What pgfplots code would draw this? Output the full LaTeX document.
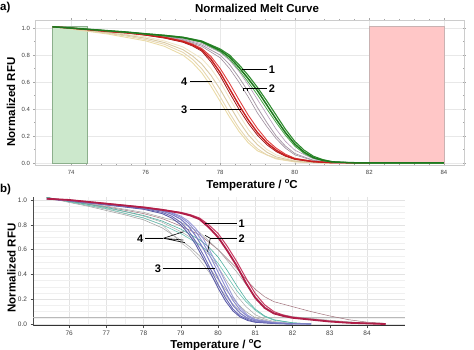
\documentclass[border=0pt]{standalone}
\usepackage{pgfplots}
\pgfplotsset{compat=1.18}
\usepackage{fontspec}
\setmainfont{Liberation Sans}
\definecolor{gA}{HTML}{1F7A1F}
\definecolor{gB}{HTML}{2E8B2E}
\definecolor{gC}{HTML}{4CA64C}
\definecolor{rA}{HTML}{C81E1E}
\definecolor{rB}{HTML}{E04040}
\definecolor{rC}{HTML}{A01818}
\definecolor{pA}{HTML}{A89AA8}
\definecolor{pB}{HTML}{B49ABA}
\definecolor{pC}{HTML}{9C8C9C}
\definecolor{bA}{HTML}{E6D6B0}
\definecolor{bB}{HTML}{D9C9A3}
\definecolor{bC}{HTML}{F0E6C8}
\definecolor{bD}{HTML}{EADBA8}
\definecolor{crA}{HTML}{B01E48}
\definecolor{crB}{HTML}{C83C64}
\definecolor{blA}{HTML}{7C7CC4}
\definecolor{blB}{HTML}{8A8AD0}
\definecolor{blC}{HTML}{6A6AB4}
\definecolor{blD}{HTML}{9A9AD8}
\definecolor{blE}{HTML}{5C5CA8}
\definecolor{tA}{HTML}{6CC4B4}
\definecolor{tB}{HTML}{50B0A0}
\definecolor{mA}{HTML}{A0707A}
\newcommand{\lab}{\fontsize{11.5}{13}\selectfont\bfseries}
\newcommand{\dego}{\raisebox{0.45em}{\fontsize{7.5}{8}\selectfont o}}
\begin{document}
\begin{tikzpicture}
\useasboundingbox (0pt,0pt) rectangle (474pt,350pt);
% ---------- panel a ----------
\begin{axis}[at={(35pt,185pt)}, anchor=south west, scale only axis,
  width=429pt, height=145pt,
  xmin=73.03, xmax=84.54, ymin=-0.015, ymax=1.06,
  xtick={74,76,...,84}, ytick={0,0.2,0.4,0.6,0.8,1.0},
  minor x tick num=4, minor y tick num=1,
  tick align=center, major tick length=3pt, minor tick length=2pt,
  every tick/.style={gray!70},
  axis line style={gray!40},
  grid=major, major grid style={gray!18},
  /pgf/number format/assume math mode=true,
  yticklabel style={/pgf/number format/fixed, /pgf/number format/fixed zerofill, /pgf/number format/precision=1},
  ticklabel style={font=\fontsize{6}{7}\selectfont, text=black!75},
  clip=false]
\addplot[fill=green!55!black!20, draw=green!30!black!45, line width=0.5pt] coordinates {(73.5,-0.005)(74.43,-0.005)(74.43,1.01)(73.5,1.01)} -- cycle;
\addplot[fill=red!22, draw=red!30!black!30, line width=0.5pt] coordinates {(82,-0.005)(84,-0.005)(84,1.01)(82,1.01)} -- cycle;
% beige (4)
\addplot[bC, line width=0.9pt] coordinates {(73.5,1.01)(74,0.998)(75,0.97)(76,0.935)(76.5,0.905)(77,0.86)(77.5,0.775)(77.75,0.70)(78,0.60)(78.25,0.48)(78.5,0.36)(78.75,0.25)(79,0.165)(79.25,0.10)(79.5,0.06)(80,0.018)(80.5,0.004)(81,0)};
\addplot[bD, line width=0.9pt] coordinates {(73.5,1.01)(74,0.993)(75,0.955)(76,0.905)(76.5,0.865)(77,0.80)(77.25,0.745)(77.5,0.67)(77.75,0.57)(78,0.455)(78.25,0.34)(78.5,0.235)(78.75,0.15)(79,0.09)(79.5,0.03)(80,0.008)(81,0)};
\addplot[bA, line width=0.9pt] coordinates {(73.5,1.01)(74,0.995)(75,0.96)(75.5,0.94)(76,0.915)(76.5,0.88)(77,0.82)(77.25,0.77)(77.5,0.70)(77.75,0.605)(78,0.49)(78.25,0.37)(78.5,0.26)(78.75,0.17)(79,0.105)(79.25,0.06)(79.5,0.035)(80,0.01)(80.5,0.002)(81,0)};
\addplot[bB, line width=0.9pt] coordinates {(73.5,1.01)(74,0.997)(75,0.965)(75.5,0.947)(76,0.925)(76.5,0.893)(77,0.84)(77.25,0.795)(77.5,0.735)(77.75,0.65)(78,0.545)(78.25,0.425)(78.5,0.31)(78.75,0.21)(79,0.135)(79.25,0.08)(79.5,0.045)(80,0.013)(80.5,0.003)(81,0)};
% gray / purple (2)
\addplot[pC, line width=0.6pt] coordinates {(73.5,1.01)(74,1.0)(75,0.978)(76,0.953)(76.5,0.935)(77,0.91)(77.5,0.865)(78,0.78)(78.25,0.70)(78.5,0.60)(78.75,0.49)(79,0.37)(79.25,0.27)(79.5,0.18)(79.75,0.11)(80,0.06)(80.5,0.018)(81,0.004)(82,0)};
\addplot[pA, line width=0.8pt] coordinates {(73.5,1.01)(74,1.0)(75,0.98)(76,0.955)(76.5,0.94)(77,0.915)(77.5,0.875)(78,0.80)(78.25,0.73)(78.5,0.635)(78.75,0.53)(79,0.41)(79.25,0.30)(79.5,0.20)(79.75,0.125)(80,0.07)(80.5,0.02)(81,0.005)(82,0)};
\addplot[pB, line width=0.6pt] coordinates {(73.5,1.01)(74,1.0)(75,0.98)(76,0.957)(76.5,0.943)(77,0.92)(77.5,0.885)(78,0.82)(78.25,0.76)(78.5,0.68)(78.75,0.58)(79,0.47)(79.25,0.36)(79.5,0.25)(79.75,0.16)(80,0.095)(80.5,0.03)(81,0.008)(82,0)};
% red (3)
\addplot[rB, line width=0.9pt] coordinates {(73.5,1.01)(74,1.0)(75,0.976)(75.5,0.966)(76,0.952)(76.5,0.933)(77,0.905)(77.25,0.882)(77.5,0.85)(77.75,0.79)(78,0.70)(78.25,0.59)(78.5,0.47)(78.75,0.355)(79,0.255)(79.25,0.17)(79.5,0.11)(79.75,0.065)(80,0.035)(80.5,0.012)(81,0.003)(82,0)};
\addplot[rC, line width=0.8pt] coordinates {(73.5,1.01)(74,1.0)(75,0.974)(75.5,0.963)(76,0.947)(76.5,0.926)(77,0.895)(77.25,0.868)(77.5,0.83)(77.75,0.75)(78,0.645)(78.25,0.52)(78.5,0.40)(78.75,0.295)(79,0.205)(79.25,0.135)(79.5,0.085)(79.75,0.05)(80,0.027)(80.5,0.008)(81,0.002)(82,0)};
\addplot[rA, line width=1.4pt] coordinates {(73.5,1.01)(74,1.0)(75,0.975)(75.5,0.965)(76,0.95)(76.5,0.93)(77,0.90)(77.25,0.875)(77.5,0.84)(77.75,0.77)(78,0.67)(78.25,0.55)(78.5,0.43)(78.75,0.32)(79,0.225)(79.25,0.15)(79.5,0.095)(79.75,0.055)(80,0.03)(80.5,0.01)(81,0.002)(82,0)};
% green (1)
\addplot[gC, line width=0.8pt] coordinates {(73.5,1.01)(74,1.0)(74.5,0.99)(75,0.979)(75.5,0.968)(76,0.955)(76.5,0.942)(77,0.926)(77.5,0.895)(78,0.825)(78.25,0.77)(78.5,0.69)(78.75,0.60)(79,0.505)(79.25,0.40)(79.5,0.30)(79.75,0.205)(80,0.125)(80.25,0.07)(80.5,0.035)(80.75,0.017)(81,0.007)(81.5,0.001)(82,0)(84,0)};
\addplot[gB, line width=1.1pt] coordinates {(73.5,1.01)(74,1.0)(74.5,0.99)(75,0.98)(75.5,0.97)(76,0.958)(76.5,0.947)(77,0.933)(77.5,0.905)(78,0.845)(78.25,0.80)(78.5,0.73)(78.75,0.65)(79,0.56)(79.25,0.46)(79.5,0.355)(79.75,0.25)(80,0.16)(80.25,0.095)(80.5,0.05)(80.75,0.025)(81,0.01)(81.5,0.002)(82,0)(84,0)};
\addplot[gA, line width=1.5pt] coordinates {(73.5,1.01)(74,1.0)(74.5,0.99)(75,0.98)(75.5,0.97)(76,0.957)(76.5,0.945)(77,0.93)(77.5,0.90)(78,0.835)(78.25,0.785)(78.5,0.71)(78.75,0.625)(79,0.535)(79.25,0.43)(79.5,0.325)(79.75,0.225)(80,0.14)(80.25,0.08)(80.5,0.04)(80.75,0.02)(81,0.008)(81.5,0.002)(82,0)(84,0)};
% annotations
\draw[black, line width=0.7pt] (axis cs:78.59,0.694) -- (axis cs:79.26,0.694);
\node[anchor=west, inner sep=1pt, font=\fontsize{11}{12}\selectfont\bfseries] at (axis cs:79.27,0.694) {1};
\draw[black, line width=0.7pt] (axis cs:78.81,0.553) -- (axis cs:79.26,0.553);
\draw[black, line width=0.6pt] (axis cs:78.63,0.53) -- (axis cs:78.63,0.553) -- (axis cs:78.81,0.553) (axis cs:78.72,0.553) -- (axis cs:78.72,0.535);
\node[anchor=west, inner sep=1pt, font=\fontsize{11}{12}\selectfont\bfseries] at (axis cs:79.27,0.553) {2};
\draw[black, line width=0.7pt] (axis cs:77.2,0.605) -- (axis cs:77.78,0.605);
\node[anchor=east, inner sep=1pt, font=\fontsize{11}{12}\selectfont\bfseries] at (axis cs:77.15,0.605) {4};
\draw[black, line width=0.7pt] (axis cs:77.2,0.398) -- (axis cs:78.55,0.398);
\node[anchor=east, inner sep=1pt, font=\fontsize{11}{12}\selectfont\bfseries] at (axis cs:77.15,0.398) {3};
\end{axis}
% ---------- panel b ----------
\begin{axis}[at={(33pt,24pt)}, anchor=south west, scale only axis,
  width=372pt, height=129pt,
  xmin=75.03, xmax=85.02, ymin=-0.016, ymax=1.024,
  xtick={76,77,...,84}, ytick={0,0.2,0.4,0.6,0.8,1.0},
  minor x tick num=1, minor y tick num=3,
  axis x line*=bottom, axis y line*=left,
  x axis line style={black!80, line width=1pt},
  y axis line style={black!70, line width=0.6pt},
  tick align=outside, major tick length=2.5pt, minor tick length=0pt,
  every tick/.style={black!70},
  grid=both, major grid style={gray!22}, minor grid style={gray!12},
  /pgf/number format/assume math mode=true,
  yticklabel style={/pgf/number format/fixed, /pgf/number format/fixed zerofill, /pgf/number format/precision=1},
  xticklabel style={yshift=1pt},
  ticklabel style={font=\fontsize{6.5}{7}\selectfont, text=black!75},
  clip=false]
\addplot[gray!55, line width=0.5pt] coordinates {(75.03,0.055)(85.02,0.055)};
% gray (4)
\addplot[gray!70, line width=0.5pt] coordinates {(75.4,1.02)(76,0.99)(76.5,0.965)(77,0.935)(77.5,0.905)(78,0.87)(78.5,0.82)(79,0.745)(79.25,0.70)(79.5,0.64)(79.75,0.56)(80,0.46)(80.25,0.34)(80.5,0.23)(80.75,0.14)(81,0.075)(81.25,0.04)(81.5,0.02)(82,0.005)(82.5,0)};
\addplot[gray!80, line width=0.5pt] coordinates {(75.4,1.02)(76,0.98)(76.5,0.95)(77,0.915)(77.5,0.88)(78,0.84)(78.5,0.775)(79,0.675)(79.25,0.62)(79.5,0.55)(79.75,0.46)(80,0.36)(80.25,0.26)(80.5,0.17)(80.75,0.10)(81,0.05)(81.5,0.012)(82,0.002)(82.5,0)};
\addplot[gray!60, line width=0.5pt] coordinates {(75.4,1.02)(76,0.985)(77,0.925)(78,0.855)(78.5,0.80)(79,0.656)(79.25,0.60)(79.5,0.52)(79.75,0.42)(80,0.31)(80.25,0.21)(80.5,0.13)(80.75,0.07)(81,0.035)(81.5,0.008)(82,0)};
% long tails
\addplot[mA, line width=0.5pt] coordinates {(75.4,1.02)(76,0.99)(77,0.945)(78,0.89)(78.5,0.85)(79,0.79)(79.5,0.72)(80,0.60)(80.5,0.45)(80.75,0.36)(81,0.28)(81.25,0.22)(81.5,0.18)(82,0.14)(82.5,0.10)(83,0.065)(83.5,0.035)(84,0.015)(84.5,0.005)};
\addplot[gray!75, line width=0.5pt] coordinates {(75.4,1.02)(76,0.99)(77,0.95)(78,0.90)(79,0.82)(79.5,0.74)(80,0.60)(80.5,0.42)(81,0.22)(81.25,0.14)(81.5,0.09)(82,0.06)(82.5,0.045)(83,0.03)(83.5,0.018)(84,0.008)(84.5,0.003)};
% teal (2)
\addplot[tA, line width=0.6pt] coordinates {(75.4,1.02)(76,0.985)(77,0.93)(78,0.855)(78.5,0.80)(79,0.73)(79.5,0.64)(79.75,0.58)(80,0.49)(80.25,0.38)(80.5,0.27)(80.75,0.18)(81,0.11)(81.25,0.06)(81.5,0.03)(82,0.01)(82.5,0)};
\addplot[tB, line width=0.6pt] coordinates {(75.4,1.02)(76,0.99)(77,0.94)(78,0.875)(78.5,0.83)(79,0.765)(79.5,0.68)(79.75,0.62)(80,0.54)(80.25,0.43)(80.5,0.31)(80.75,0.20)(81,0.12)(81.25,0.065)(81.5,0.035)(82,0.01)(82.5,0)};
% blue (3)
\addplot[blD, line width=0.9pt] coordinates {(75.4,1.01)(76,0.995)(76.5,0.98)(77,0.965)(77.5,0.95)(78,0.935)(78.5,0.92)(78.75,0.90)(79,0.87)(79.2,0.83)(79.4,0.77)(79.6,0.69)(79.8,0.58)(80,0.46)(80.2,0.34)(80.4,0.22)(80.6,0.13)(80.8,0.07)(81,0.038)(81.5,0.012)(82,0.003)(82.5,0)};
\addplot[blE, line width=0.9pt] coordinates {(75.4,1.01)(76,0.993)(76.5,0.977)(77,0.96)(77.5,0.943)(78,0.925)(78.5,0.89)(78.75,0.855)(79,0.80)(79.2,0.73)(79.4,0.64)(79.6,0.53)(79.8,0.41)(80,0.29)(80.2,0.185)(80.4,0.105)(80.6,0.055)(80.8,0.028)(81,0.014)(81.5,0.004)(82,0)};
\addplot[blB, line width=0.9pt] coordinates {(75.4,1.01)(76,0.995)(76.5,0.98)(77,0.965)(77.5,0.95)(78,0.935)(78.5,0.915)(78.75,0.895)(79,0.86)(79.2,0.815)(79.4,0.745)(79.6,0.655)(79.8,0.54)(80,0.42)(80.2,0.30)(80.4,0.19)(80.6,0.11)(80.8,0.06)(81,0.032)(81.5,0.01)(82,0.002)(82.5,0)};
\addplot[blC, line width=0.9pt] coordinates {(75.4,1.01)(76,0.994)(76.5,0.978)(77,0.962)(77.5,0.946)(78,0.93)(78.5,0.90)(78.75,0.87)(79,0.82)(79.2,0.755)(79.4,0.665)(79.6,0.56)(79.8,0.44)(80,0.32)(80.2,0.21)(80.4,0.12)(80.6,0.065)(80.8,0.035)(81,0.018)(81.5,0.005)(82,0)};
\addplot[blA, line width=1.1pt] coordinates {(75.4,1.01)(76,0.995)(76.5,0.98)(77,0.965)(77.5,0.95)(78,0.935)(78.5,0.91)(78.75,0.885)(79,0.845)(79.2,0.79)(79.4,0.71)(79.6,0.61)(79.8,0.49)(80,0.37)(80.2,0.25)(80.4,0.15)(80.6,0.085)(80.8,0.045)(81,0.025)(81.5,0.008)(82,0.002)(82.5,0)};
% crimson (1)
\addplot[crB, line width=1pt] coordinates {(75.4,1.01)(76,1.0)(76.5,0.986)(77,0.972)(77.5,0.957)(78,0.942)(78.5,0.923)(79,0.90)(79.25,0.882)(79.5,0.855)(79.75,0.80)(80,0.73)(80.25,0.625)(80.5,0.505)(80.75,0.37)(81,0.245)(81.25,0.155)(81.5,0.10)(81.75,0.072)(82,0.055)(82.5,0.038)(83,0.022)(83.5,0.012)(84,0.005)(84.5,0)};
\addplot[crA, line width=1.8pt] coordinates {(75.4,1.01)(76,1.0)(76.5,0.985)(77,0.97)(77.5,0.955)(78,0.94)(78.5,0.92)(79,0.895)(79.25,0.875)(79.5,0.845)(79.75,0.78)(80,0.70)(80.25,0.59)(80.5,0.47)(80.75,0.33)(81,0.21)(81.25,0.13)(81.5,0.085)(81.75,0.065)(82,0.05)(82.5,0.035)(83,0.02)(83.5,0.01)(84,0.005)(84.5,0)};
% annotations
\draw[black, line width=0.7pt] (axis cs:79.65,0.812) -- (axis cs:80.5,0.812);
\node[anchor=west, inner sep=1pt, font=\fontsize{11}{12}\selectfont\bfseries] at (axis cs:80.52,0.812) {1};
\draw[black, line width=0.7pt] (axis cs:79.79,0.691) -- (axis cs:80.5,0.691);
\draw[black, line width=0.6pt] (axis cs:79.79,0.691) -- (axis cs:79.65,0.715) (axis cs:79.79,0.691) -- (axis cs:79.72,0.583);
\node[anchor=west, inner sep=1pt, font=\fontsize{11}{12}\selectfont\bfseries] at (axis cs:80.52,0.691) {2};
\draw[black, line width=0.7pt] (axis cs:78.04,0.691) -- (axis cs:78.53,0.691);
\draw[black, line width=0.6pt] (axis cs:78.53,0.691) -- (axis cs:79.07,0.744) (axis cs:78.53,0.691) -- (axis cs:79.07,0.677) (axis cs:78.53,0.691) -- (axis cs:79.11,0.656);
\node[anchor=east, inner sep=1pt, font=\fontsize{11}{12}\selectfont\bfseries] at (axis cs:78.02,0.691) {4};
\draw[black, line width=0.7pt] (axis cs:78.53,0.449) -- (axis cs:79.92,0.449);
\node[anchor=east, inner sep=1pt, font=\fontsize{11}{12}\selectfont\bfseries] at (axis cs:78.5,0.449) {3};
\end{axis}
% ---------- texts ----------
\node[anchor=west, inner sep=0pt, font=\lab] at (0pt,342pt) {a)};
\node[inner sep=0pt, font=\lab] at (257pt,342pt) {Normalized Melt Curve};
\node[inner sep=0pt, font=\lab] at (252pt,165pt) {Temperature / \dego C};
\node[inner sep=0pt, font=\lab, rotate=90] at (11pt,248pt) {Normalized RFU};
\node[anchor=west, inner sep=0pt, font=\lab] at (0pt,160pt) {b)};
\node[inner sep=0pt, font=\lab, rotate=90] at (11.5pt,82pt) {Normalized RFU};
\node[inner sep=0pt, font=\lab] at (216pt,5pt) {Temperature / \dego C};
\end{tikzpicture}
\end{document}
